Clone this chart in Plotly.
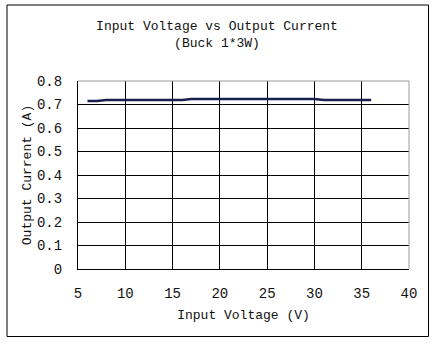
import plotly.graph_objects as go

voltage = [6, 7, 8, 9, 10, 12, 14, 16, 17, 18, 20, 22, 24, 26, 28, 30, 31, 32, 34, 36]
current = [0.715, 0.715, 0.719, 0.719, 0.719, 0.719, 0.719, 0.719, 0.723, 0.723,
           0.723, 0.723, 0.723, 0.723, 0.723, 0.723, 0.719, 0.719, 0.719, 0.719]
x_ticks = [5, 10, 15, 20, 25, 30, 35, 40]
y_ticks = [0, 0.1, 0.2, 0.3, 0.4, 0.5, 0.6, 0.7, 0.8]
y_labels = ["0", "0.1", "0.2", "0.3", "0.4", "0.5", "0.6", "0.7", "0.8"]

W, H = 442, 344
L, R, T, B = 78, 409, 81, 269
FONT = "Liberation Mono"

fig = go.Figure()
fig.add_trace(go.Scatter(x=voltage, y=current, mode="lines",
                         line=dict(color="#1b1f4e", width=2.5), showlegend=False))

def px(xp):
    return (xp - L) / (R - L)

def py(yp):
    return (B - yp) / (B - T)

fig.update_layout(
    width=W, height=H,
    margin=dict(l=L, r=W - R, t=T, b=H - B),
    paper_bgcolor="white", plot_bgcolor="white",
    font=dict(family=FONT, size=13, color="#111"),
    title=dict(text="Input Voltage vs Output Current<br>(Buck 1*3W)",
               x=217 / W, xanchor="center", y=1 - 30 / H, yanchor="middle",
               font=dict(family=FONT, size=13, color="#111")),
    xaxis=dict(range=[5, 40], tickvals=x_ticks, showgrid=True, gridcolor="black",
               gridwidth=1, showline=True, linecolor="black", linewidth=1,
               ticks="", zeroline=False, ticklabelstandoff=11,
               tickfont=dict(family=FONT, size=14, color="#111"),
               title=dict(text="Input Voltage (V)", standoff=9,
                          font=dict(family=FONT, size=13, color="#111"))),
    yaxis=dict(range=[0, 0.8], tickvals=y_ticks, ticktext=y_labels, showgrid=True,
               gridcolor="black", gridwidth=1, showline=True, linecolor="black",
               linewidth=1, ticks="", zeroline=False, ticklabelstandoff=12,
               tickfont=dict(family=FONT, size=14, color="#111"),
               title=dict(text="Output Current (A)", standoff=2,
                          font=dict(family=FONT, size=13, color="#111"))),
    shapes=[
        dict(type="line", xref="paper", yref="paper", x0=0, x1=1, y0=1, y1=1,
             line=dict(color="#999", width=1), layer="above"),
        dict(type="line", xref="paper", yref="paper", x0=1, x1=1, y0=0, y1=1,
             line=dict(color="#999", width=1), layer="above"),
        dict(type="rect", xref="paper", yref="paper",
             x0=px(7), x1=px(428.5), y0=py(336.5), y1=py(5),
             line=dict(color="black", width=1), fillcolor="rgba(0,0,0,0)"),
    ],
)

fig.write_html("out.html")
